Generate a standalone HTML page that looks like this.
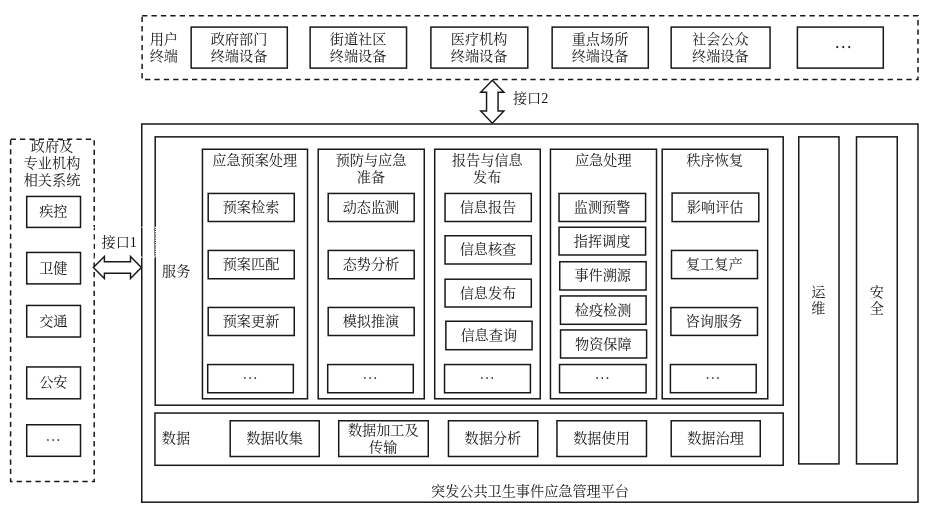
<!DOCTYPE html>
<html lang="zh-CN">
<head>
<meta charset="utf-8">
<title>突发公共卫生事件应急管理平台</title>
<style>
html,body{margin:0;padding:0;background:#fff;}
body{width:935px;height:511px;overflow:hidden;}
svg{display:block;will-change:transform;}
svg text{font-family:'Liberation Serif', 'Noto Serif CJK SC', serif;fill:#151515;font-weight:400;}
svg text.el{font-family:'Noto Serif CJK SC', serif;font-weight:700;fill:#111;}
</style>
</head>
<body>
<svg width="935" height="511" viewBox="0 0 935 511" lang="zh-CN">
<rect x="0" y="0" width="935" height="511" fill="#ffffff"/>
<rect x="142.10" y="15.80" width="775.90" height="63.80" fill="none" stroke="#181818" stroke-width="1.5" stroke-dasharray="5.3 4.1"/>
<text x="149.70" y="44" text-anchor="start" font-size="14.15">用户</text>
<text x="149.70" y="61" text-anchor="start" font-size="14.15">终端</text>
<rect x="191.15" y="27.10" width="96.15" height="41.00" fill="none" stroke="#181818" stroke-width="1.5"/>
<text x="239.00" y="44" text-anchor="middle" font-size="14.15">政府部门</text>
<text x="239.00" y="61" text-anchor="middle" font-size="14.15">终端设备</text>
<rect x="310.15" y="27.10" width="96.40" height="41.00" fill="none" stroke="#181818" stroke-width="1.5"/>
<text x="358.12" y="44" text-anchor="middle" font-size="14.15">街道社区</text>
<text x="358.12" y="61" text-anchor="middle" font-size="14.15">终端设备</text>
<rect x="430.90" y="27.10" width="96.90" height="41.00" fill="none" stroke="#181818" stroke-width="1.5"/>
<text x="479.12" y="44" text-anchor="middle" font-size="14.15">医疗机构</text>
<text x="479.12" y="61" text-anchor="middle" font-size="14.15">终端设备</text>
<rect x="552.15" y="27.10" width="96.15" height="41.00" fill="none" stroke="#181818" stroke-width="1.5"/>
<text x="600.00" y="44" text-anchor="middle" font-size="14.15">重点场所</text>
<text x="600.00" y="61" text-anchor="middle" font-size="14.15">终端设备</text>
<rect x="671.15" y="27.10" width="98.90" height="41.00" fill="none" stroke="#181818" stroke-width="1.5"/>
<text x="720.38" y="44" text-anchor="middle" font-size="14.15">社会公众</text>
<text x="720.38" y="61" text-anchor="middle" font-size="14.15">终端设备</text>
<rect x="797.40" y="27.10" width="85.90" height="41.00" fill="none" stroke="#181818" stroke-width="1.5"/>
<text class="el" x="843.23" y="54" text-anchor="middle" font-size="18">…</text>
<rect x="141.75" y="124.00" width="776.25" height="378.20" fill="none" stroke="#181818" stroke-width="1.5"/>
<rect x="155.20" y="136.85" width="628.00" height="268.35" fill="none" stroke="#181818" stroke-width="1.5"/>
<rect x="154.95" y="413.05" width="628.25" height="52.25" fill="none" stroke="#181818" stroke-width="1.5"/>
<rect x="798.75" y="136.85" width="40.25" height="327.05" fill="none" stroke="#181818" stroke-width="1.5"/>
<rect x="856.50" y="136.85" width="40.75" height="327.05" fill="none" stroke="#181818" stroke-width="1.5"/>
<text x="162.00" y="276" text-anchor="start" font-size="14.15">服务</text>
<text x="161.80" y="443" text-anchor="start" font-size="14.15">数据</text>
<text x="818.30" y="297" text-anchor="middle" font-size="14.15">运</text>
<text x="818.30" y="313" text-anchor="middle" font-size="14.15">维</text>
<text x="876.90" y="297" text-anchor="middle" font-size="14.15">安</text>
<text x="876.90" y="313" text-anchor="middle" font-size="14.15">全</text>
<text x="530.00" y="496" text-anchor="middle" font-size="14.15">突发公共卫生事件应急管理平台</text>
<rect x="202.45" y="149.25" width="105.05" height="249.55" fill="none" stroke="#181818" stroke-width="1.5"/>
<text x="254.75" y="165" text-anchor="middle" font-size="14.15">应急预案处理</text>
<rect x="208.20" y="193.45" width="86.05" height="28.05" fill="none" stroke="#181818" stroke-width="1.5"/>
<text x="251.00" y="212" text-anchor="middle" font-size="14.15">预案检索</text>
<rect x="208.20" y="250.45" width="86.05" height="28.30" fill="none" stroke="#181818" stroke-width="1.5"/>
<text x="251.00" y="269" text-anchor="middle" font-size="14.15">预案匹配</text>
<rect x="208.20" y="307.45" width="86.05" height="28.05" fill="none" stroke="#181818" stroke-width="1.5"/>
<text x="251.00" y="326" text-anchor="middle" font-size="14.15">预案更新</text>
<rect x="207.70" y="364.55" width="85.65" height="28.20" fill="none" stroke="#181818" stroke-width="1.5"/>
<text class="el" x="250.10" y="384" text-anchor="middle" font-size="15.6">…</text>
<rect x="318.20" y="149.25" width="106.05" height="249.55" fill="none" stroke="#181818" stroke-width="1.5"/>
<text x="371.00" y="165" text-anchor="middle" font-size="14.15">预防与应急</text>
<text x="371.00" y="182" text-anchor="middle" font-size="14.15">准备</text>
<rect x="328.20" y="193.45" width="86.00" height="28.05" fill="none" stroke="#181818" stroke-width="1.5"/>
<text x="370.98" y="212" text-anchor="middle" font-size="14.15">动态监测</text>
<rect x="328.20" y="250.45" width="86.00" height="28.30" fill="none" stroke="#181818" stroke-width="1.5"/>
<text x="370.98" y="269" text-anchor="middle" font-size="14.15">态势分析</text>
<rect x="328.20" y="307.45" width="86.00" height="28.05" fill="none" stroke="#181818" stroke-width="1.5"/>
<text x="370.98" y="326" text-anchor="middle" font-size="14.15">模拟推演</text>
<rect x="327.70" y="364.55" width="85.60" height="28.20" fill="none" stroke="#181818" stroke-width="1.5"/>
<text class="el" x="370.07" y="384" text-anchor="middle" font-size="15.6">…</text>
<rect x="434.70" y="149.25" width="105.55" height="249.55" fill="none" stroke="#181818" stroke-width="1.5"/>
<text x="487.25" y="165" text-anchor="middle" font-size="14.15">报告与信息</text>
<text x="487.25" y="182" text-anchor="middle" font-size="14.15">发布</text>
<rect x="445.05" y="193.45" width="86.25" height="28.05" fill="none" stroke="#181818" stroke-width="1.5"/>
<text x="487.95" y="212" text-anchor="middle" font-size="14.15">信息报告</text>
<rect x="445.05" y="235.75" width="86.25" height="28.25" fill="none" stroke="#181818" stroke-width="1.5"/>
<text x="487.95" y="254" text-anchor="middle" font-size="14.15">信息核查</text>
<rect x="445.05" y="279.20" width="86.25" height="27.80" fill="none" stroke="#181818" stroke-width="1.5"/>
<text x="487.95" y="298" text-anchor="middle" font-size="14.15">信息发布</text>
<rect x="445.85" y="321.25" width="86.25" height="28.45" fill="none" stroke="#181818" stroke-width="1.5"/>
<text x="488.75" y="340" text-anchor="middle" font-size="14.15">信息查询</text>
<rect x="444.55" y="364.55" width="85.85" height="28.20" fill="none" stroke="#181818" stroke-width="1.5"/>
<text class="el" x="487.05" y="384" text-anchor="middle" font-size="15.6">…</text>
<rect x="550.45" y="149.25" width="106.05" height="249.55" fill="none" stroke="#181818" stroke-width="1.5"/>
<text x="603.25" y="165" text-anchor="middle" font-size="14.15">应急处理</text>
<rect x="559.05" y="193.45" width="86.55" height="28.05" fill="none" stroke="#181818" stroke-width="1.5"/>
<text x="602.10" y="212" text-anchor="middle" font-size="14.15">监测预警</text>
<rect x="559.05" y="227.25" width="86.55" height="27.75" fill="none" stroke="#181818" stroke-width="1.5"/>
<text x="602.10" y="246" text-anchor="middle" font-size="14.15">指挥调度</text>
<rect x="559.75" y="261.75" width="86.35" height="28.25" fill="none" stroke="#181818" stroke-width="1.5"/>
<text x="602.70" y="280" text-anchor="middle" font-size="14.15">事件溯源</text>
<rect x="560.45" y="295.95" width="85.65" height="28.35" fill="none" stroke="#181818" stroke-width="1.5"/>
<text x="603.05" y="315" text-anchor="middle" font-size="14.15">检疫检测</text>
<rect x="560.55" y="329.95" width="86.05" height="28.05" fill="none" stroke="#181818" stroke-width="1.5"/>
<text x="603.35" y="349" text-anchor="middle" font-size="14.15">物资保障</text>
<rect x="559.55" y="364.55" width="86.55" height="28.20" fill="none" stroke="#181818" stroke-width="1.5"/>
<text class="el" x="602.40" y="384" text-anchor="middle" font-size="15.6">…</text>
<rect x="662.20" y="149.25" width="105.55" height="249.55" fill="none" stroke="#181818" stroke-width="1.5"/>
<text x="714.75" y="165" text-anchor="middle" font-size="14.15">秩序恢复</text>
<rect x="672.10" y="193.05" width="86.70" height="28.55" fill="none" stroke="#181818" stroke-width="1.5"/>
<text x="715.23" y="212" text-anchor="middle" font-size="14.15">影响评估</text>
<rect x="671.50" y="250.45" width="86.00" height="28.15" fill="none" stroke="#181818" stroke-width="1.5"/>
<text x="714.28" y="269" text-anchor="middle" font-size="14.15">复工复产</text>
<rect x="670.90" y="307.55" width="86.60" height="27.85" fill="none" stroke="#181818" stroke-width="1.5"/>
<text x="713.98" y="326" text-anchor="middle" font-size="14.15">咨询服务</text>
<rect x="670.40" y="364.55" width="85.80" height="28.15" fill="none" stroke="#181818" stroke-width="1.5"/>
<text class="el" x="712.88" y="384" text-anchor="middle" font-size="15.6">…</text>
<rect x="230.20" y="420.75" width="89.05" height="35.75" fill="none" stroke="#181818" stroke-width="1.5"/>
<text x="274.50" y="443" text-anchor="middle" font-size="14.15">数据收集</text>
<rect x="338.70" y="420.75" width="89.55" height="35.75" fill="none" stroke="#181818" stroke-width="1.5"/>
<text x="383.25" y="435" text-anchor="middle" font-size="14.15">数据加工及</text>
<text x="383.25" y="452" text-anchor="middle" font-size="14.15">传输</text>
<rect x="448.45" y="420.75" width="89.30" height="35.75" fill="none" stroke="#181818" stroke-width="1.5"/>
<text x="492.88" y="443" text-anchor="middle" font-size="14.15">数据分析</text>
<rect x="556.95" y="420.75" width="89.55" height="35.75" fill="none" stroke="#181818" stroke-width="1.5"/>
<text x="601.50" y="443" text-anchor="middle" font-size="14.15">数据使用</text>
<rect x="671.20" y="420.75" width="89.05" height="35.75" fill="none" stroke="#181818" stroke-width="1.5"/>
<text x="715.50" y="443" text-anchor="middle" font-size="14.15">数据治理</text>
<rect x="10.60" y="139.30" width="83.60" height="342.30" fill="none" stroke="#181818" stroke-width="1.5" stroke-dasharray="5.3 4.1"/>
<text x="52.00" y="151" text-anchor="middle" font-size="14.15">政府及</text>
<text x="52.00" y="168" text-anchor="middle" font-size="14.15">专业机构</text>
<text x="52.00" y="185" text-anchor="middle" font-size="14.15">相关系统</text>
<rect x="26.70" y="196.45" width="53.80" height="30.95" fill="none" stroke="#181818" stroke-width="1.5"/>
<text x="53.38" y="216" text-anchor="middle" font-size="14.15">疾控</text>
<rect x="26.70" y="252.45" width="53.80" height="31.45" fill="none" stroke="#181818" stroke-width="1.5"/>
<text x="53.38" y="273" text-anchor="middle" font-size="14.15">卫健</text>
<rect x="26.70" y="305.45" width="53.80" height="31.55" fill="none" stroke="#181818" stroke-width="1.5"/>
<text x="53.38" y="326" text-anchor="middle" font-size="14.15">交通</text>
<rect x="26.70" y="366.95" width="53.80" height="31.85" fill="none" stroke="#181818" stroke-width="1.5"/>
<text x="53.38" y="387" text-anchor="middle" font-size="14.15">公安</text>
<rect x="26.70" y="424.75" width="53.80" height="31.55" fill="none" stroke="#181818" stroke-width="1.5"/>
<text class="el" x="53.17" y="446" text-anchor="middle" font-size="15.6">…</text>
<rect x="93.2" y="227.3" width="62.3" height="29.9" fill="none" stroke="#ffffff" stroke-width="1.2" stroke-dasharray="1.2 1"/>
<polygon points="492.30,80.20 503.90,92.30 498.05,92.30 498.05,110.90 503.90,110.90 492.30,123.20 480.70,110.90 486.55,110.90 486.55,92.30 480.70,92.30" fill="#fff" stroke="#181818" stroke-width="1.45" stroke-linejoin="miter"/>
<text x="512.90" y="103" text-anchor="start" font-size="14.15">接口2</text>
<polygon points="93.40,267.50 104.40,256.40 104.40,261.70 130.50,261.70 130.50,256.40 141.40,267.50 130.50,278.60 130.50,273.30 104.40,273.30 104.40,278.60" fill="#fff" stroke="#181818" stroke-width="1.45" stroke-linejoin="miter"/>
<text x="101.50" y="247" text-anchor="start" font-size="14.15">接口1</text>
</svg>
</body>
</html>
